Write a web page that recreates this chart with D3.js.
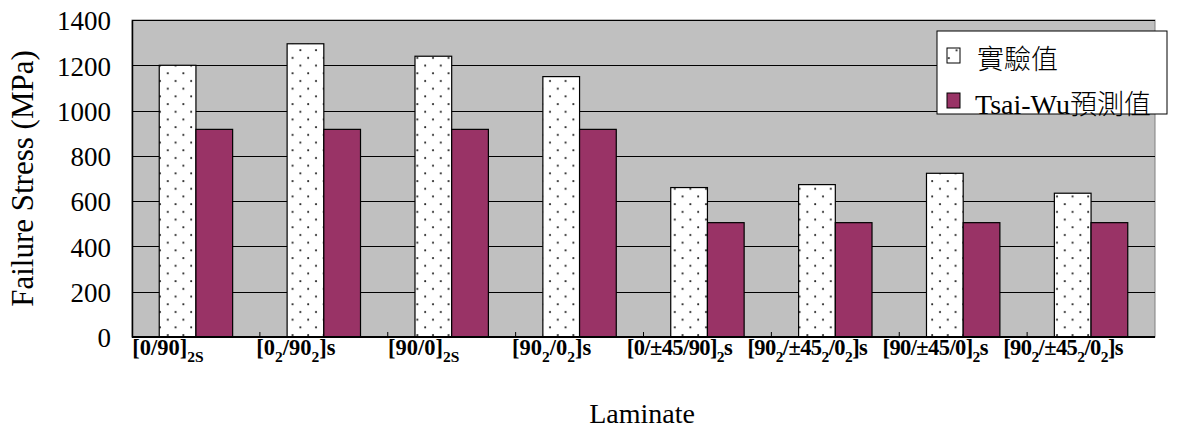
<!DOCTYPE html>
<html>
<head>
<meta charset="utf-8">
<script src="https://cdn.jsdelivr.net/npm/d3@7"></script>
<style>
  html, body { margin: 0; padding: 0; background: #ffffff; }
  svg { display: block; }
  .serif { font-family: "Liberation Serif", "Times New Roman", Times, "DejaVu Serif", serif; }
  .cjk { font-family: "Noto Sans CJK TC", "Noto Sans CJK SC", sans-serif; }
</style>
</head>
<body>
<div id="chart"></div>
<script>
// Laminate categories; "_{...}" marks a subscript run
const categories = [
  "[0/90]_{2S}",
  "[0_{2}/90_{2}]s",
  "[90/0]_{2S}",
  "[90_{2}/0_{2}]s",
  "[0/±45/90]_{2}s",
  "[90_{2}/±45_{2}/0_{2}]s",
  "[90/±45/0]_{2}s",
  "[90_{2}/±45_{2}/0_{2}]s"
];
const seriesNames = ["實驗值", "Tsai-Wu預測值"];
const experimental = [1200, 1295, 1240, 1150, 660, 673, 723, 635];
const tsaiWu = [917, 917, 917, 917, 505, 505, 505, 505];
const yTicks = [0, 200, 400, 600, 800, 1000, 1200, 1400];

const W = 1185, H = 428;
const plot = { left: 132, right: 1155, top: 20, bottom: 337 };
const purple = "#993366";

const svg = d3.select("#chart").append("svg")
  .attr("width", W).attr("height", H);

// dotted fill used by the experimental series
const defs = svg.append("defs");
const pat = defs.append("pattern")
  .attr("id", "dots")
  .attr("patternUnits", "userSpaceOnUse")
  .attr("width", 15.6).attr("height", 15.4);
pat.append("rect").attr("width", 15.6).attr("height", 15.4).attr("fill", "#ffffff");
pat.append("circle").attr("cx", 4).attr("cy", 4).attr("r", 1).attr("fill", "#222");
pat.append("circle").attr("cx", 11.8).attr("cy", 11.7).attr("r", 1).attr("fill", "#222");

const x0 = d3.scaleBand().domain(d3.range(categories.length))
  .range([plot.left, plot.right]).paddingInner(0).paddingOuter(0);
const groupW = x0.bandwidth() * 0.574;
const x1 = d3.scaleBand().domain([0, 1]).range([0, groupW]).padding(0);
const y = d3.scaleLinear().domain([0, 1400]).range([plot.bottom, plot.top]);

// plot area background
svg.append("rect")
  .attr("x", plot.left).attr("y", plot.top)
  .attr("width", plot.right - plot.left).attr("height", plot.bottom - plot.top)
  .attr("fill", "#c0c0c0").attr("stroke", "#808080").attr("stroke-width", 1);

// gridlines
svg.append("g").selectAll("line")
  .data(yTicks.filter(t => t > 0))
  .join("line")
  .attr("x1", plot.left).attr("x2", plot.right)
  .attr("y1", d => Math.round(y(d)) + 0.5).attr("y2", d => Math.round(y(d)) + 0.5)
  .attr("stroke", "#000").attr("stroke-width", 1.2);

// bars
const seriesData = [experimental, tsaiWu];
const fills = ["url(#dots)", purple];
const gOff = (x0.bandwidth() - groupW) / 2;
seriesData.forEach((vals, s) => {
  svg.append("g").selectAll("rect")
    .data(vals)
    .join("rect")
    .attr("x", (d, i) => x0(i) + gOff + x1(s))
    .attr("y", d => y(d))
    .attr("width", x1.bandwidth())
    .attr("height", d => y(0) - y(d))
    .attr("fill", fills[s])
    .attr("stroke", "#000").attr("stroke-width", 1.2);
});

// y axis
const yAxis = d3.axisLeft(y).tickValues(yTicks).tickSize(0).tickPadding(21)
  .tickFormat(d3.format("d"));
const yg = svg.append("g").attr("transform", `translate(${plot.left},0)`).call(yAxis);
yg.attr("font-family", null);
yg.select(".domain").attr("stroke", "#000").attr("stroke-width", 1.5);
yg.selectAll("text").attr("class", "serif").attr("font-size", 27).attr("fill", "#000")
  .attr("dy", "0.36em");

// x axis with short inward ticks between categories
const xg = svg.append("g");
xg.append("line")
  .attr("x1", plot.left).attr("x2", plot.right)
  .attr("y1", plot.bottom).attr("y2", plot.bottom)
  .attr("stroke", "#000").attr("stroke-width", 1.8);
xg.selectAll("line.tick")
  .data(d3.range(1, categories.length))
  .join("line").attr("class", "tick")
  .attr("x1", i => x0(i)).attr("x2", i => x0(i))
  .attr("y1", plot.bottom).attr("y2", plot.bottom - 5)
  .attr("stroke", "#000").attr("stroke-width", 1);

// category labels with subscripts
function addRich(textSel, str, mainSize, subSize) {
  const parts = str.split(/(_\{[^}]*\})/).filter(p => p.length);
  let lowered = false;
  parts.forEach(p => {
    const isSub = p.startsWith("_{");
    const t = textSel.append("tspan")
      .text(isSub ? p.slice(2, -1) : p)
      .attr("font-size", isSub ? subSize : mainSize);
    if (isSub && !lowered) { t.attr("dy", 7); lowered = true; }
    else if (!isSub && lowered) { t.attr("dy", -7); lowered = false; }
  });
}
categories.forEach((c, i) => {
  const cx = x0(i) + x0.bandwidth() / 2 - 28;
  const t = svg.append("text")
    .attr("class", "serif")
    .attr("x", cx).attr("y", 355)
    .attr("text-anchor", "middle")
    .attr("letter-spacing", c.includes("±") ? -0.6 : 0)
    .attr("font-weight", "bold").attr("fill", "#000");
  addRich(t, c, 22.5, 15.5);
});

// axis titles
svg.append("text")
  .attr("class", "serif")
  .attr("transform", `translate(33,${(plot.top + plot.bottom) / 2}) rotate(-90)`)
  .attr("text-anchor", "middle")
  .attr("font-size", 31).attr("fill", "#000")
  .text("Failure Stress (MPa)");
svg.append("text")
  .attr("class", "serif")
  .attr("x", 642).attr("y", 423)
  .attr("text-anchor", "middle")
  .attr("font-size", 28).attr("fill", "#000")
  .text("Laminate");

// legend
const lg = svg.append("g").attr("transform", "translate(937,31)");
lg.append("rect").attr("width", 230).attr("height", 83)
  .attr("fill", "#fff").attr("stroke", "#000").attr("stroke-width", 1);
seriesNames.forEach((name, i) => {
  const top = 17 + i * 45;
  lg.append("rect")
    .attr("x", 10).attr("y", top).attr("width", 13).attr("height", 15)
    .attr("fill", fills[i]).attr("stroke", "#000").attr("stroke-width", 1);
  const t = lg.append("text")
    .attr("x", i === 0 ? 40 : 38).attr("y", top + 21)
    .attr("font-size", 27).attr("fill", "#000");
  const m = name.match(/^([A-Za-z\-]*)(.*)$/);
  if (m[1]) t.append("tspan").attr("class", "serif").attr("font-size", 28).text(m[1]);
  t.append("tspan").attr("class", "cjk").attr("font-weight", 300).text(m[2]);
});
</script>
</body>
</html>
